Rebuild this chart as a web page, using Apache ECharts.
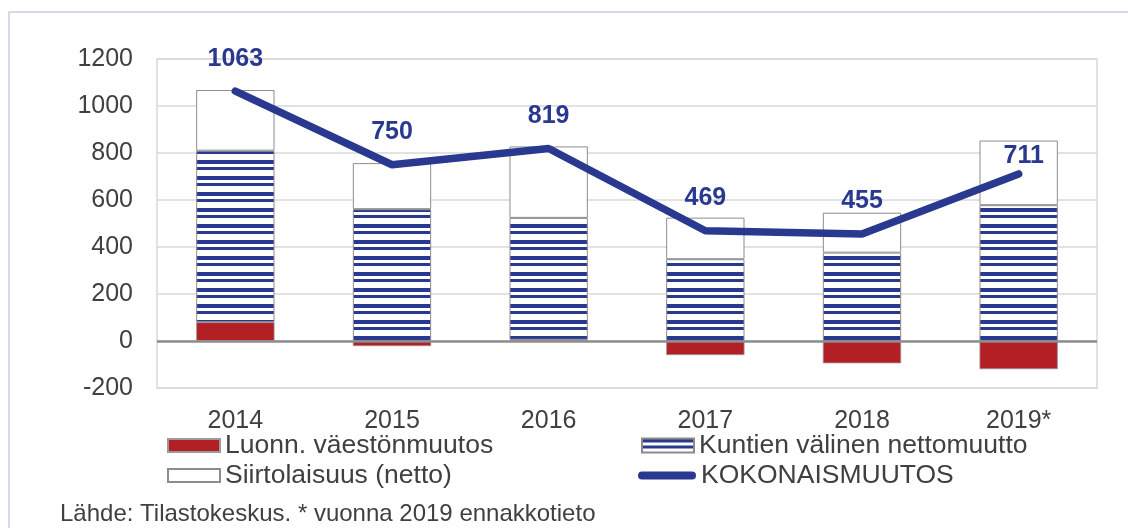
<!DOCTYPE html>
<html>
<head>
<meta charset="utf-8">
<style>
  html, body { margin: 0; padding: 0; background: #fff; }
  #chart { width: 1128px; height: 528px; }
</style>
<script src="https://cdn.jsdelivr.net/npm/echarts@6/dist/echarts.min.js"></script>
</head>
<body>
<div id="chart"></div>
<script>
const years = ["2014", "2015", "2016", "2017", "2018", "2019*"];
const luonnollinen = [80, -22, 5, -60, -95, -120];
const kuntienValinen = [730, 561, 519, 348, 376, 578];
const siirtolaisuus = [258, 196, 304, 177, 170, 275];
const kokonaismuutos = [1063, 750, 819, 469, 455, 711];
const yTicks = { min: -200, max: 1200, interval: 200 };

const FONT = "'Liberation Sans', Arial, sans-serif";
const BLUE = "#2a3990";
const RED = "#b21f24";
const TEXT = "#404040";

function stripePattern() {
  const c = document.createElement("canvas");
  c.width = 16;
  c.height = 16;
  const ctx = c.getContext("2d");
  ctx.fillStyle = "#ffffff";
  ctx.fillRect(0, 0, 16, 16);
  ctx.fillStyle = BLUE;
  ctx.fillRect(0, 0, 16, 4);
  ctx.fillRect(0, 7, 16, 3);
  return { image: c, repeat: "repeat" };
}

function legendAt(name, left, top, extra) {
  return Object.assign(
    {
      data: [name],
      left,
      top,
      padding: 0,
      itemWidth: 52,
      itemHeight: 13,
      selectedMode: false,
      textStyle: { fontFamily: FONT, fontSize: 26.5, color: TEXT },
    },
    extra || {}
  );
}

const chart = echarts.init(document.getElementById("chart"), null, { renderer: "canvas" });

chart.setOption({
  animation: false,
  backgroundColor: "#ffffff",
  grid: {
    left: 157,
    right: 31,
    top: 59,
    height: 329,
    show: true,
    borderColor: "#d9d9d9",
    borderWidth: 1.5,
  },
  legend: [
    legendAt("Luonn. väestönmuutos", 167, 432, { icon: "rect" }),
    legendAt("Kuntien välinen nettomuutto", 641, 432, { icon: "rect", itemHeight: 14 }),
    legendAt("Siirtolaisuus (netto)", 167, 462, { icon: "rect" }),
    legendAt("KOKONAISMUUTOS", 638, 462, {
      icon: "path://M4,0H54A4,4,0,0,1,54,8H4A4,4,0,0,1,4,0Z",
      itemWidth: 58,
      itemHeight: 8,
    }),
  ],
  graphic: [
    {
      type: "rect",
      shape: { x: 9, y: 12, width: 1140, height: 540 },
      style: { fill: "none", stroke: "#c8cee0", lineWidth: 1.5 },
      silent: true,
    },
    {
      type: "text",
      left: 60,
      top: 502,
      style: {
        text: "Lähde: Tilastokeskus. * vuonna 2019 ennakkotieto",
        fontFamily: FONT,
        fontSize: 24,
        fill: TEXT,
      },
      silent: true,
    },
  ],
  xAxis: {
    type: "category",
    data: years,
    axisLine: { show: false, onZero: false },
    axisTick: { show: false },
    axisLabel: { fontFamily: FONT, fontSize: 25, color: TEXT, margin: 21 },
    splitLine: { show: false },
  },
  yAxis: {
    type: "value",
    min: yTicks.min,
    max: yTicks.max,
    interval: yTicks.interval,
    axisLine: { show: false },
    axisTick: { show: false },
    axisLabel: {
      fontFamily: FONT,
      fontSize: 25,
      color: TEXT,
      margin: 24,
      formatter: (v) => String(v),
    },
    splitLine: { lineStyle: { color: "#d9d9d9", width: 1.5 } },
  },
  series: [
    {
      name: "Luonn. väestönmuutos",
      type: "bar",
      stack: "total",
      barWidth: "50%",
      data: luonnollinen,
      itemStyle: { color: RED, borderColor: "#9a9a9a", borderWidth: 0.8 },
      markLine: {
        silent: true,
        symbol: "none",
        label: { show: false },
        data: [{ yAxis: 0 }],
        lineStyle: { color: "#8c8c8c", width: 2.5, type: "solid" },
        z: 5,
      },
    },
    {
      name: "Kuntien välinen nettomuutto",
      type: "bar",
      stack: "total",
      barWidth: "50%",
      data: kuntienValinen,
      itemStyle: { color: stripePattern(), borderColor: "#8c8c8c", borderWidth: 1 },
    },
    {
      name: "Siirtolaisuus (netto)",
      type: "bar",
      stack: "total",
      barWidth: "50%",
      data: siirtolaisuus,
      itemStyle: { color: "#ffffff", borderColor: "#8c8c8c", borderWidth: 1 },
    },
    {
      name: "KOKONAISMUUTOS",
      type: "line",
      z: 10,
      symbol: "circle",
      symbolSize: 2,
      showSymbol: true,
      data: kokonaismuutos.map((v, i) =>
        i === kokonaismuutos.length - 1
          ? { value: v, label: { distance: 4, offset: [5, 0] } }
          : v
      ),
      itemStyle: { color: BLUE },
      lineStyle: { color: BLUE, width: 7.5, cap: "round" },
      label: {
        show: true,
        position: "top",
        distance: 19,
        fontFamily: FONT,
        fontSize: 25,
        fontWeight: "bold",
        color: BLUE,
      },
    },
  ],
});
</script>
</body>
</html>
